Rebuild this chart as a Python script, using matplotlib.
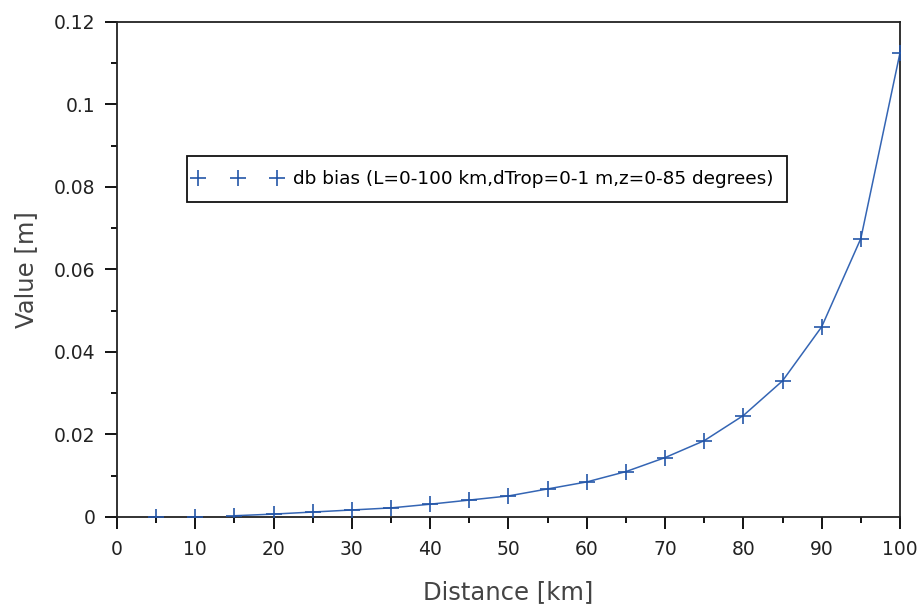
import matplotlib
matplotlib.use("Agg")
import matplotlib.pyplot as plt
from matplotlib.ticker import MultipleLocator
from matplotlib.lines import Line2D
from matplotlib.legend_handler import HandlerLine2D

distance = [5, 10, 15, 20, 25, 30, 35, 40, 45, 50, 55, 60, 65, 70, 75, 80, 85, 90, 95, 100]
bias = [0.0, 0.0, 0.0003, 0.0007, 0.0012, 0.0017, 0.0022, 0.0031, 0.0041, 0.0051,
        0.0068, 0.0085, 0.0110, 0.0144, 0.0185, 0.0246, 0.0330, 0.0461, 0.0675, 0.1125]
legend_label = "db bias (L=0-100 km,dTrop=0-1 m,z=0-85 degrees)"

plt.rcParams['font.family'] = ['DejaVu Sans']
fig = plt.figure(figsize=(9.19, 6.06), dpi=100)
ax = fig.add_axes([0.1273, 0.1469, 0.8520, 0.8168])

line_color = '#3465b4'
ax.plot(distance[2:], bias[2:], color=line_color, lw=1.1, zorder=2)
ax.plot(distance, bias, linestyle='none', marker='+', markersize=11, mew=1.2,
        color='#2456a8', zorder=3, clip_on=True)

ax.set_xlim(0, 100)
ax.set_ylim(0, 0.12)
ax.xaxis.set_minor_locator(MultipleLocator(5))
ax.yaxis.set_minor_locator(MultipleLocator(0.01))
ax.set_xticks(range(0, 101, 10))
ax.set_xticklabels([str(v) for v in range(0, 101, 10)])
yt = [0, 0.02, 0.04, 0.06, 0.08, 0.1, 0.12]
ax.set_yticks(yt)
ax.set_yticklabels(['0', '0.02', '0.04', '0.06', '0.08', '0.1', '0.12'])

ax.tick_params(which='major', direction='out', length=8.5, width=1.3, labelsize=13.5,
               labelcolor='#222222')
ax.tick_params(axis='y', which='major', pad=7)
ax.tick_params(axis='x', which='major', pad=8)
ax.tick_params(which='minor', direction='out', length=4.5, width=1.3)
for s in ax.spines.values():
    s.set_linewidth(1.3)
    s.set_color('#222222')

ax.set_xlabel('Distance [km]', fontsize=17.5, color='#444444', labelpad=15)
ax.set_ylabel('Value [m]', fontsize=17.5, color='#444444', labelpad=11)

handle = Line2D([], [], linestyle='none', marker='+', markersize=11, mew=1.2, color='#2456a8')
leg = ax.legend([handle], [legend_label], loc='upper left', bbox_to_anchor=(0.0894, 0.729),
                handler_map={handle: HandlerLine2D(marker_pad=-0.15, numpoints=3)},
                fancybox=False, framealpha=1, edgecolor='#111111',
                prop={'size': 13.3}, handlelength=3.97, handletextpad=1.0,
                borderpad=0.75, borderaxespad=0)
leg.get_frame().set_linewidth(1.3)

fig.savefig('out.png', dpi=100)
